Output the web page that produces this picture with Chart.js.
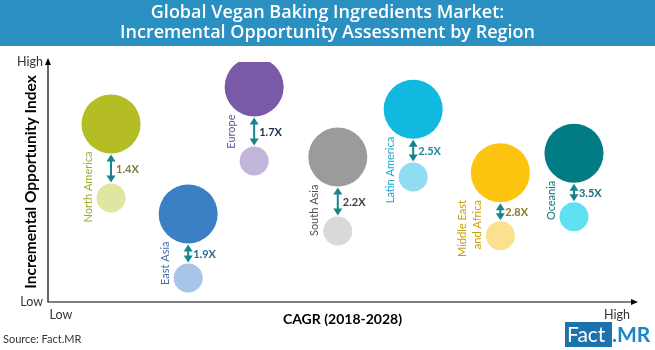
<!DOCTYPE html>
<html>
<head>
<meta charset="utf-8">
<script src="https://cdn.jsdelivr.net/npm/chart.js@4.4.1/dist/chart.umd.min.js"></script>
<style>
  body { margin: 0; background: #fff; }
</style>
</head>
<body>
<canvas id="canvas" width="655" height="350"></canvas>
<script>
// regions and their values on a 0-100 index scale
var regions = ["North America", "Europe", "East Asia", "South Asia", "Latin America", "Middle East\nand Africa", "Oceania"];
var cagrIndex = [10.7, 35.0, 23.8, 49.2, 62.0, 76.8, 89.3];
var opportunityHigh = [74.2, 89.6, 36.7, 60.4, 80.3, 53.9, 62.0];
var opportunityLow = [43.3, 58.8, 10.0, 29.6, 52.1, 27.6, 35.5];
var multipliers = ["1.4X", "1.7X", "1.9X", "2.2X", "2.5X", "2.8X", "3.5X"];

var xTickValues = [2.2, 96.6];
var xTickLabels = ["Low", "High"];
var yTickValues = [0, 100];
var yTickLabels = ["Low", "High"];

var bigColors = ["#b5bd25", "#7a5aa8", "#3b7fc4", "#9b9b9b", "#11b9e0", "#fdc40f", "#017c85"];
var smallColors = ["#e0e6a2", "#c3b6db", "#a7c5e8", "#d9d9d9", "#90dcf1", "#fbe08e", "#5fe1f3"];
var nameColors = ["#a2aa2a", "#6b4f9c", "#3e70a8", "#505050", "#1ba5c8", "#c99d0c", "#0f727c"];
var multColors = ["#7f7b3a", "#1f2d4a", "#2e6a8e", "#404040", "#1d8c9c", "#8f7a22", "#17707a"];

var BIG_R = 29.5, SMALL_R = 14.5;
var FONT = "Lato, 'Open Sans', sans-serif";

function points(ys) {
  return cagrIndex.map(function (x, i) { return { x: x, y: ys[i] }; });
}

function arrowHead(ctx, x, y, dir) {
  ctx.beginPath();
  ctx.moveTo(x, y);
  ctx.lineTo(x - 4.5, y - dir * 7);
  ctx.lineTo(x + 4.5, y - dir * 7);
  ctx.closePath();
  ctx.fill();
}

var decor = {
  id: 'decor',
  beforeDraw: function (chart) {
    var ctx = chart.ctx;
    ctx.save();
    ctx.fillStyle = '#ffffff';
    ctx.fillRect(0, 0, chart.width, chart.height);
    ctx.fillStyle = '#2a90c2';
    ctx.fillRect(0, 0, chart.width, 46);
    ctx.fillStyle = '#ffffff';
    ctx.font = "600 18px 'Open Sans', sans-serif";
    ctx.textAlign = 'center';
    ctx.textBaseline = 'middle';
    ctx.fillText("Global Vegan Baking Ingredients Market:", 327.5, 13);
    ctx.fillText("Incremental Opportunity Assessment by Region", 327.5, 33);
    ctx.restore();
  },
  afterDatasetsDraw: function (chart) {
    var ctx = chart.ctx;
    var xs = chart.scales.x, ys = chart.scales.y;
    var a = chart.chartArea;
    ctx.save();

    // axes with arrow heads
    ctx.strokeStyle = '#000';
    ctx.fillStyle = '#000';
    ctx.lineWidth = 1.2;
    ctx.beginPath();
    ctx.moveTo(a.left, a.top - 2);
    ctx.lineTo(a.left, a.bottom);
    ctx.lineTo(a.right - 2, a.bottom);
    ctx.stroke();
    ctx.beginPath();
    ctx.moveTo(a.left, a.top - 4);
    ctx.lineTo(a.left - 3, a.top + 3);
    ctx.lineTo(a.left + 3, a.top + 3);
    ctx.closePath();
    ctx.fill();
    ctx.beginPath();
    ctx.moveTo(a.right + 1, a.bottom);
    ctx.lineTo(a.right - 6, a.bottom - 3);
    ctx.lineTo(a.right - 6, a.bottom + 3);
    ctx.closePath();
    ctx.fill();

    for (var i = 0; i < regions.length; i++) {
      var cx = xs.getPixelForValue(cagrIndex[i]);
      var yBig = ys.getPixelForValue(opportunityHigh[i]);
      var ySmall = ys.getPixelForValue(opportunityLow[i]);
      var top = yBig + BIG_R + 1;
      var bot = ySmall - SMALL_R - 1;

      // double arrow
      ctx.strokeStyle = '#14868c';
      ctx.fillStyle = '#14868c';
      ctx.lineWidth = 2;
      ctx.beginPath();
      ctx.moveTo(cx, top + 5);
      ctx.lineTo(cx, bot - 5);
      ctx.stroke();
      arrowHead(ctx, cx, top, -1);
      arrowHead(ctx, cx, bot, 1);

      // multiplier label
      ctx.fillStyle = multColors[i];
      ctx.font = "bold 11px " + FONT;
      ctx.textAlign = 'left';
      ctx.textBaseline = 'middle';
      ctx.fillText(multipliers[i], cx + 5, (top + bot) / 2 + 1);

      // region name, rotated
      var lines = regions[i].split('\n');
      ctx.fillStyle = nameColors[i];
      ctx.font = "11px " + FONT;
      ctx.textAlign = 'right';
      for (var j = 0; j < lines.length; j++) {
        var lx = cx - 23 - (lines.length - 1 - j) * 14.5;
        ctx.save();
        ctx.translate(lx, yBig + BIG_R - 2);
        ctx.rotate(-Math.PI / 2);
        ctx.fillText(lines[j], 0, 0);
        ctx.restore();
      }
    }

    // source and logo
    ctx.fillStyle = '#333';
    ctx.font = "11px " + FONT;
    ctx.textAlign = 'left';
    ctx.textBaseline = 'middle';
    ctx.fillText("Source: Fact.MR", 3, 339);

    ctx.fillStyle = '#1b72ad';
    ctx.fillRect(565, 322, 47, 25);
    ctx.fillStyle = '#ffffff';
    ctx.font = "21px " + FONT;
    ctx.fillText("Fact", 567, 335);
    ctx.fillStyle = '#1a86c7';
    ctx.font = "bold 21px " + FONT;
    ctx.fillText(".MR", 612, 335);

    ctx.restore();
  }
};

var config = {
  type: 'bubble',
  data: {
    datasets: [
      {
        label: 'Incremental opportunity',
        data: points(opportunityHigh),
        backgroundColor: bigColors,
        borderWidth: 0,
        radius: BIG_R
      },
      {
        label: 'Base',
        data: points(opportunityLow),
        backgroundColor: smallColors,
        borderWidth: 0,
        radius: SMALL_R
      }
    ]
  },
  options: {
    responsive: false,
    animation: false,
    events: [],
    layout: { autoPadding: false, padding: { top: 62, right: 18, left: 0, bottom: 0 } },
    plugins: { legend: { display: false }, tooltip: { enabled: false }, title: { display: false } },
    scales: {
      x: {
        type: 'linear', min: 0, max: 100,
        grid: { display: false, drawTicks: false },
        border: { display: false },
        afterBuildTicks: function (s) { s.ticks = xTickValues.map(function (v) { return { value: v }; }); },
        afterFit: function (s) { s.height = 48; },
        ticks: {
          padding: 5, maxRotation: 0, autoSkip: false, color: '#333',
          font: { family: FONT, size: 12.5 },
          callback: function (v, i) { return xTickLabels[i]; }
        },
        title: {
          display: true, text: 'CAGR (2018-2028)', color: '#000',
          font: { family: FONT, size: 14, weight: 'bold' },
          padding: { top: 0, bottom: 22 }
        }
      },
      y: {
        type: 'linear', min: 0, max: 100,
        grid: { display: false, drawTicks: false },
        border: { display: false },
        afterBuildTicks: function (s) { s.ticks = yTickValues.map(function (v) { return { value: v }; }); },
        afterFit: function (s) { s.width = 48; },
        ticks: {
          padding: 5, autoSkip: false, color: '#333',
          font: { family: FONT, size: 12.5 },
          callback: function (v, i) { return yTickLabels[i]; }
        },
        title: {
          display: true, text: 'Incremental Opportunity Index', color: '#000',
          font: { family: FONT, size: 15.5, weight: 'bold' },
          padding: { top: 22, bottom: 0 }
        }
      }
    }
  },
  plugins: [decor]
};

window.onload = function () {
  var ctx = document.getElementById('canvas').getContext('2d');
  window.myChart = new Chart(ctx, config);
};
</script>
</body>
</html>
